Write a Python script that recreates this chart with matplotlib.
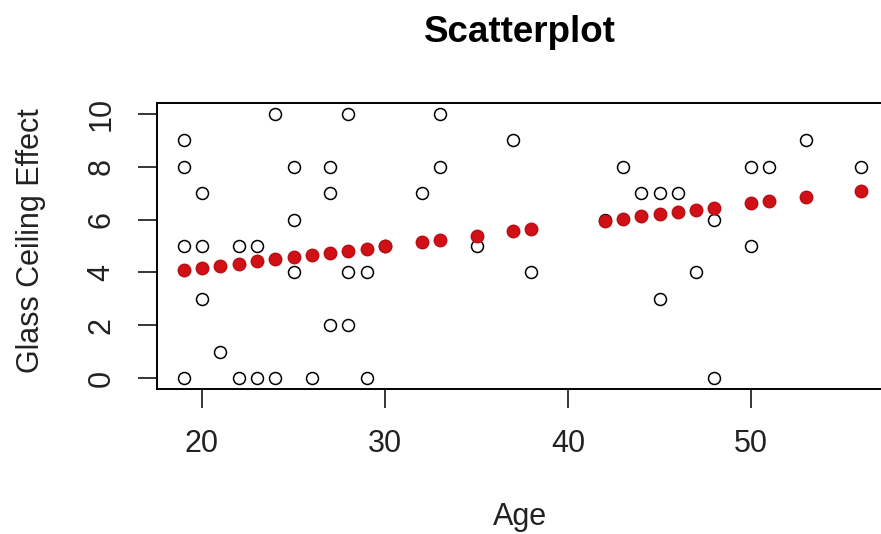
import matplotlib
matplotlib.use("Agg")
import matplotlib.pyplot as plt

# observed points (age, glass ceiling score)
age = [19, 19, 19, 19, 20, 20, 20, 21, 22, 22, 23, 23, 24, 24,
       25, 25, 25, 26, 27, 27, 27, 28, 28, 28, 29, 29, 30,
       32, 33, 33, 35, 37, 38, 42, 43, 44, 45, 45, 46, 47,
       48, 48, 50, 50, 51, 53, 56]
effect = [9, 8, 5, 0, 7, 5, 3, 1, 5, 0, 5, 0, 10, 0,
          8, 6, 4, 0, 8, 7, 2, 10, 4, 2, 4, 0, 5,
          7, 10, 8, 5, 9, 4, 6, 8, 7, 7, 3, 7, 4,
          6, 0, 8, 5, 8, 9, 8]

# fitted values (red dots)
fit_age = [19, 20, 21, 22, 23, 24, 25, 26, 27, 28, 29, 30, 32, 33,
           35, 37, 38, 42, 43, 44, 45, 46, 47, 48, 50, 51, 53, 56]
fit_val = [4.09, 4.17, 4.25, 4.33, 4.42, 4.50, 4.58, 4.66, 4.74, 4.82,
           4.90, 4.99, 5.15, 5.23, 5.39, 5.56, 5.64, 5.96, 6.04, 6.13,
           6.21, 6.29, 6.37, 6.45, 6.61, 6.69, 6.86, 7.10]

x_ticks = [20, 30, 40, 50]
y_ticks = [0, 2, 4, 6, 8, 10]

plt.rcParams['font.family'] = ['Liberation Sans', 'DejaVu Sans']

W, H = 881, 534
fig = plt.figure(figsize=(W / 100, H / 100), dpi=100)
# box runs a little past the right edge, like in the original
ax = fig.add_axes([156.6 / W, (H - 388.6) / H, (888 - 156.6) / W, (388.6 - 103.4) / H])

ax.plot(age, effect, linestyle='none', marker='o', mfc='none', mec='black',
        ms=8.6, mew=1.1)
ax.plot(fit_age, fit_val, linestyle='none', marker='o', color='#d01015',
        mec='#b80e14', ms=9)

ax.set_xlim(17.52, 57.48)
ax.set_ylim(-0.4, 10.4)
ax.set_xticks(x_ticks)
ax.set_yticks(y_ticks)
ax.tick_params(axis='both', length=14, width=1.1, labelsize=22, colors='black',
               labelcolor='#222222')
ax.tick_params(axis='x', pad=15)
ax.tick_params(axis='y', pad=15, labelrotation=90)
for lab in ax.get_yticklabels():
    lab.set_va('center')
for sp in ax.spines.values():
    sp.set_linewidth(1.4)

fig.text(520 / W, 1 - 42 / H, "Scatterplot", ha='center', va='baseline',
         fontsize=26.5, fontweight='bold')
fig.text(520 / W, 1 - 525 / H, "Age", ha='center', va='baseline',
         fontsize=22, color='#222222')
fig.text(31 / W, 1 - 241 / H, "Glass Ceiling Effect", ha='center', va='center',
         rotation=90, fontsize=22, color='#222222')

fig.savefig("out.png", dpi=100)
